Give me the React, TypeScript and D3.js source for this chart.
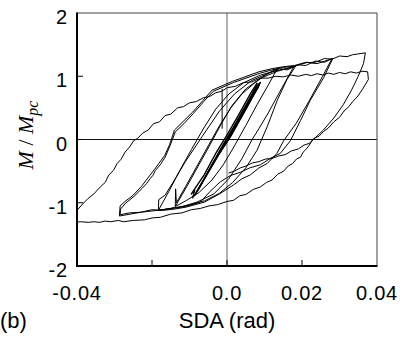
import React from "react";
import * as d3 from "d3";

type P = [number, number];

const X_TICKS = [-0.04, -0.02, 0, 0.02, 0.04];
const X_LABELS = ["-0.04", "", "0.0", "0.02", "0.04"];
const Y_TICKS = [2, 1, 0, -1, -2];
const Y_LABELS = ["2", "1", "0", "-1", "-2"];

// Elastic (small amplitude) cycles: the thick band through the origin
const elastic1: P[] = [[-0.0088,-0.9],[-0.0058,-0.6],[-0.0028,-0.28],[0.0006,0.02],[0.0038,0.36],[0.0066,0.66],[0.0089,0.9],[0.0079,0.85],[0.005,0.54],[0.002,0.22],[-0.0012,-0.1],[-0.0044,-0.44],[-0.0072,-0.75],[-0.0088,-0.9]];
const elastic2: P[] = [[-0.0084,-0.86],[-0.0054,-0.56],[-0.0022,-0.24],[0.0011,0.06],[0.0043,0.4],[0.0071,0.7],[0.0086,0.86],[0.0076,0.8],[0.0046,0.48],[0.0015,0.16],[-0.0017,-0.16],[-0.0049,-0.5],[-0.0076,-0.78],[-0.0084,-0.86]];
const elastic3: P[] = [[-0.008,-0.82],[-0.0049,-0.5],[-0.0017,-0.18],[0.0016,0.14],[0.0048,0.46],[0.0074,0.74],[0.0083,0.82],[0.0072,0.74],[0.0041,0.42],[0.001,0.1],[-0.0022,-0.22],[-0.0053,-0.54],[-0.0078,-0.8]];
const elastic4: P[] = [[-0.0092,-0.93],[-0.0086,-0.8],[-0.0095,-0.86],[-0.006,-0.55],[-0.003,-0.22],[0.0003,0.1],[0.0034,0.42],[0.006,0.7],[0.0081,0.9]];

// Cycle at about +/-0.0135 rad
const c1Up: P[] = [[-0.0138,-1.06],[-0.0137,-0.78],[-0.0135,-1.0],[-0.011,-0.74],[-0.008,-0.42],[-0.005,-0.1],[-0.002,0.22],[0.001,0.5],[0.004,0.72],[0.0075,0.9],[0.0105,1.03],[0.0134,1.12]];
const c1Down: P[] = [[0.0134,1.12],[0.011,0.86],[0.008,0.55],[0.005,0.22],[0.002,-0.1],[-0.001,-0.4],[-0.004,-0.64],[-0.0075,-0.84],[-0.011,-0.97],[-0.0138,-1.06]];

// Cycles at about +0.018 / -0.0183 rad
const c2Up1: P[] = [[-0.0138,-1.06],[-0.0105,-0.72],[-0.0075,-0.4],[-0.0045,-0.08],[-0.0015,0.25],[0.0015,0.55],[0.005,0.8],[0.009,0.97],[0.0135,1.08],[0.0183,1.16]];
const c2Down1: P[] = [[0.0183,1.16],[0.016,0.95],[0.0134,0.62],[0.0107,0.2],[0.008,-0.17],[0.005,-0.45],[0.0015,-0.68],[-0.002,-0.85],[-0.006,-0.97],[-0.011,-1.05],[-0.0183,-1.12]];
const c2Up2: P[] = [[-0.0183,-1.12],[-0.0182,-0.95],[-0.0165,-0.88],[-0.0138,-0.62],[-0.0111,-0.35],[-0.0066,0.05],[-0.002,0.45],[0.002,0.72],[0.0065,0.93],[0.012,1.07],[0.0178,1.15]];
const c2Down2: P[] = [[0.0178,1.15],[0.0145,0.8],[0.011,0.42],[0.0085,0.17],[0.0067,0.0],[0.004,-0.3],[0.0005,-0.62],[-0.0035,-0.86],[-0.008,-0.99],[-0.0125,-1.07],[-0.0183,-1.12]];
const glitch: P[] = [[-0.0013,0.8],[-0.0013,0.17]];

// Cycles at about +0.028 / -0.0285 rad
const c3Up1: P[] = [[-0.0183,-1.12],[-0.0155,-0.82],[-0.0125,-0.48],[-0.0095,-0.16],[-0.0062,0.18],[-0.003,0.48],[0.0005,0.72],[0.0045,0.9],[0.009,1.02],[0.012,1.07],[0.014,1.12],[0.016,1.1],[0.019,1.18],[0.021,1.17],[0.0235,1.24],[0.026,1.22],[0.028,1.28]];
const c3Down1: P[] = [[0.028,1.28],[0.0255,1.0],[0.022,0.62],[0.0185,0.26],[0.0151,-0.02],[0.0133,-0.22],[0.0107,-0.38],[0.0085,-0.45],[0.0062,-0.56],[0.004,-0.62],[0.0017,-0.72],[-0.002,-0.86],[-0.006,-0.99],[-0.011,-1.07],[-0.014,-1.1],[-0.017,-1.12],[-0.02,-1.11],[-0.023,-1.15],[-0.026,-1.16],[-0.0285,-1.19]];
const c3Up2: P[] = [[-0.0285,-1.19],[-0.0284,-1.1],[-0.0271,-1.01],[-0.0248,-0.9],[-0.0226,-0.77],[-0.0215,-0.7],[-0.0205,-0.62],[-0.0198,-0.57],[-0.0191,-0.49],[-0.0178,-0.4],[-0.0165,-0.28],[-0.0152,-0.1],[-0.0138,0.12],[-0.0115,0.25],[-0.009,0.41],[-0.0062,0.6],[-0.0037,0.76],[0.0017,0.9],[0.0089,1.05],[0.012,1.1],[0.015,1.14],[0.018,1.16],[0.0215,1.22],[0.024,1.2],[0.0282,1.28]];
const c3Down2: P[] = [[0.0282,1.28],[0.0258,0.98],[0.0222,0.62],[0.0196,0.3],[0.0169,-0.02],[0.0142,-0.22],[0.0115,-0.3],[0.0089,-0.4],[0.006,-0.45],[0.0035,-0.52],[0.0009,-0.57],[-0.0018,-0.67],[-0.0045,-0.82],[-0.0071,-0.99],[-0.011,-1.06],[-0.014,-1.08],[-0.017,-1.11],[-0.02,-1.13],[-0.023,-1.15],[-0.0287,-1.21]];

// Cycles at about +0.037 / -0.04 rad
const c4Up1: P[] = [[-0.0287,-1.21],[-0.0285,-1.05],[-0.0272,-0.98],[-0.025,-0.88],[-0.0228,-0.74],[-0.0193,-0.47],[-0.0166,-0.25],[-0.0153,-0.08],[-0.014,0.15],[-0.0092,0.43],[-0.004,0.78],[0.0015,0.92],[0.0085,1.07],[0.012,1.12],[0.015,1.15],[0.018,1.17],[0.021,1.22],[0.023,1.21],[0.026,1.28],[0.028,1.27],[0.03,1.32],[0.032,1.31],[0.0335,1.34],[0.0369,1.37]];
const c4Down1: P[] = [[0.0369,1.37],[0.0364,1.2],[0.035,1.0],[0.0332,0.78],[0.031,0.55],[0.0285,0.34],[0.0257,0.15],[0.0227,-0.02],[0.0218,-0.1],[0.021,-0.16],[0.0203,-0.2],[0.0196,-0.28],[0.0185,-0.31],[0.0175,-0.38],[0.0163,-0.42],[0.0151,-0.5],[0.0135,-0.55],[0.012,-0.64],[0.0105,-0.68],[0.0089,-0.75],[0.007,-0.79],[0.005,-0.87],[0.0034,-0.89],[0.0018,-0.96],[0.0,-0.98],[-0.0025,-1.03],[-0.0048,-1.05],[-0.0071,-1.09],[-0.0095,-1.11],[-0.012,-1.16],[-0.015,-1.18],[-0.0178,-1.23],[-0.02,-1.24],[-0.022,-1.27],[-0.025,-1.28],[-0.0276,-1.3],[-0.029,-1.28],[-0.031,-1.3],[-0.0325,-1.29],[-0.034,-1.31],[-0.0355,-1.3],[-0.037,-1.31],[-0.039,-1.3],[-0.0408,-1.31]];
const c4Up2: P[] = [[-0.0408,-1.31],[-0.0406,-1.16],[-0.04,-1.12],[-0.0385,-1.02],[-0.037,-0.93],[-0.0355,-0.86],[-0.0338,-0.75],[-0.0325,-0.68],[-0.0315,-0.56],[-0.0303,-0.49],[-0.0293,-0.38],[-0.0282,-0.31],[-0.0272,-0.2],[-0.026,-0.12],[-0.0249,-0.02],[-0.0238,0.02],[-0.0225,0.1],[-0.021,0.15],[-0.0196,0.25],[-0.018,0.28],[-0.0165,0.38],[-0.015,0.4],[-0.0132,0.5],[-0.0116,0.52],[-0.01,0.58],[-0.0082,0.6],[-0.0063,0.66],[-0.0046,0.68],[-0.003,0.74],[-0.0015,0.76],[0.0001,0.82],[0.0022,0.84],[0.0044,0.9],[0.0066,0.91],[0.0089,0.97],[0.011,0.97],[0.013,1.0],[0.015,0.99],[0.017,1.02],[0.019,1.0],[0.021,1.03],[0.0225,1.01],[0.024,1.04],[0.0255,1.02],[0.027,1.05],[0.0285,1.03],[0.03,1.06],[0.0315,1.04],[0.033,1.07],[0.0345,1.05],[0.036,1.08],[0.0375,1.07]];
const c4Down2: P[] = [[0.0375,1.07],[0.0377,0.95],[0.0362,0.8],[0.0347,0.67],[0.0335,0.6],[0.0325,0.52],[0.0312,0.45],[0.03,0.35],[0.0285,0.28],[0.027,0.18],[0.0258,0.13],[0.0245,0.05],[0.0232,0.02],[0.022,-0.06],[0.0205,-0.09],[0.019,-0.15],[0.0172,-0.18],[0.0155,-0.24],[0.0138,-0.26],[0.012,-0.3],[0.0102,-0.31],[0.0085,-0.35],[0.0068,-0.37],[0.005,-0.42],[0.0035,-0.45],[0.002,-0.5],[0.0004,-0.53]];

const thinCurves: P[][] = [c1Up, c1Down, c2Up1, c2Down1, c2Up2, c2Down2, glitch, c3Up1, c3Down1, c3Up2, c3Down2, c4Up1, c4Down1, c4Up2, c4Down2];
const bandCurves: P[][] = [elastic1, elastic2, elastic3, elastic4];

const W = 403;
const H = 338;
const L = 77, R = 377, T = 13, B = 266;

export default function App() {
  const x = d3.scaleLinear().domain([-0.04, 0.04]).range([L, R]);
  const y = d3.scaleLinear().domain([-2, 2]).range([B, T]);
  const line = d3.line<P>().x((d) => x(d[0])).y((d) => y(d[1]));
  const font = "'Liberation Sans', Arial, Helvetica, sans-serif";
  return (
    <svg width={W} height={H} style={{ position: "fixed", left: 0, top: 0, background: "#fff" }}>
      <defs>
        <clipPath id="plot">
          <rect x={L} y={T} width={R - L} height={B - T} />
        </clipPath>
      </defs>
      <rect x={0} y={0} width={W} height={H} fill="#fff" />
      <line x1={x(0)} x2={x(0)} y1={T} y2={B} stroke="#666" strokeWidth={1} />
      <line x1={L} x2={R} y1={y(0)} y2={y(0)} stroke="#111" strokeWidth={1} />
      <g clipPath="url(#plot)" fill="none" stroke="#000" strokeLinejoin="round">
        {bandCurves.map((c, i) => (
          <path key={"b" + i} d={line(c) || ""} strokeWidth={1.4} />
        ))}
        {thinCurves.map((c, i) => (
          <path key={"t" + i} d={line(c) || ""} strokeWidth={1} />
        ))}
      </g>
      <line x1={L} x2={R} y1={T} y2={T} stroke="#444" strokeWidth={1} />
      <line x1={R} x2={R} y1={T} y2={B} stroke="#444" strokeWidth={1} />
      <line x1={L} x2={L} y1={T - 0.5} y2={B + 1} stroke="#000" strokeWidth={2} />
      <line x1={L - 1} x2={R + 0.5} y1={B} y2={B} stroke="#000" strokeWidth={2} />
      {X_TICKS.slice(1, 4).map((t) => (
        <line key={"xt" + t} x1={x(t)} x2={x(t)} y1={B} y2={B - 6} stroke="#000" strokeWidth={1} />
      ))}
      {Y_TICKS.slice(1, 4).map((t) => (
        <line key={"yt" + t} x1={L} x2={L + 6} y1={y(t)} y2={y(t)} stroke="#000" strokeWidth={1} />
      ))}
      {X_TICKS.map((t, i) => (
        <text key={"xl" + t} x={x(t)} y={300} textAnchor="middle" fontFamily={font} fontSize={20} letterSpacing={0.8} fill="#000">
          {X_LABELS[i]}
        </text>
      ))}
      {Y_TICKS.map((t, i) => (
        <text key={"yl" + t} x={68} y={y(t) + 11} textAnchor="end" fontFamily={font} fontSize={20} letterSpacing={0.8} fill="#000">
          {Y_LABELS[i]}
        </text>
      ))}
      <text x={227} y={328} textAnchor="middle" fontFamily={font} fontSize={22} fill="#000">SDA (rad)</text>
      <text x={0} y={328} fontFamily={font} fontSize={22} fill="#000">(b)</text>
      <text
        transform="translate(33,135) rotate(-90)"
        textAnchor="middle"
        fontFamily="'Liberation Serif', 'Times New Roman', serif"
        fontStyle="italic"
        fontSize={22}
        fill="#000"
      >
        <tspan>M</tspan>
        <tspan fontStyle="normal"> / </tspan>
        <tspan>M</tspan>
        <tspan dy={5} fontSize={16}>pc</tspan>
      </text>
    </svg>
  );
}
